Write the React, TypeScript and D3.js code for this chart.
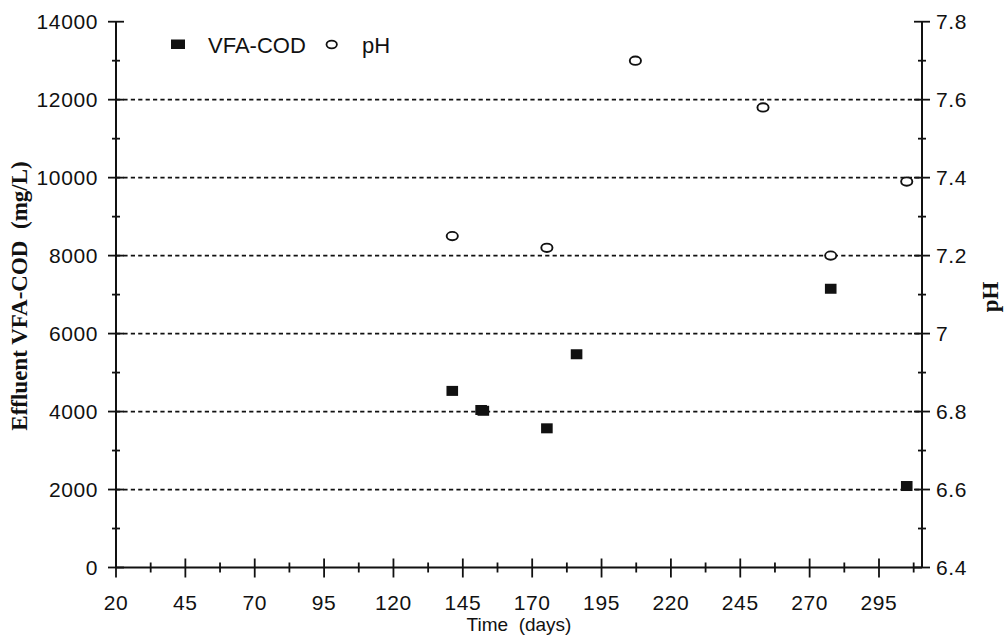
import React from "react";
import * as d3 from "d3";

// Sampling days and measurements
const vfaDays = [141.2, 151.6, 152.4, 175.3, 186, 277.6, 305];
const vfaCod = [4530, 4040, 4020, 3570, 5470, 7150, 2090];
const phDays = [141.2, 175.3, 207.2, 253.2, 277.6, 305];
const phValues = [7.25, 7.22, 7.7, 7.58, 7.2, 7.39];

const xMajorTicks = [20, 45, 70, 95, 120, 145, 170, 195, 220, 245, 270, 295];
const xMinorTicks = [32.5, 57.5, 82.5, 107.5, 132.5, 157.5, 182.5, 207.5, 232.5, 257.5, 282.5, 307.5];
const codTicks = [0, 2000, 4000, 6000, 8000, 10000, 12000, 14000];
const codMinorTicks = [1000, 3000, 5000, 7000, 9000, 11000, 13000];
const codGrid = [2000, 4000, 6000, 8000, 10000, 12000];
const phTicks = [6.4, 6.6, 6.8, 7.0, 7.2, 7.4, 7.6, 7.8];
const phTickLabels = ["6.4", "6.6", "6.8", "7", "7.2", "7.4", "7.6", "7.8"];
const phMinorTicks = [6.5, 6.7, 6.9, 7.1, 7.3, 7.5, 7.7];

const W = 1005;
const H = 638;
const left = 116;
const right = 922;
const top = 21.7;
const bottom = 567.5;

const sans = "'Liberation Sans', Arial, sans-serif";
const serif = "'Liberation Serif', 'Times New Roman', serif";
const ink = "#111";

export default function App() {
  const x = d3.scaleLinear().domain([20, 310.5]).range([left, right]);
  const yCod = d3.scaleLinear().domain([0, 14000]).range([bottom, top]);
  const yPh = d3.scaleLinear().domain([6.4, 7.8]).range([bottom, top]);

  return (
    <svg
      width={W}
      height={H}
      style={{ position: "absolute", left: 0, top: 0, background: "#fff" }}
    >
      <rect width={W} height={H} fill="#fff" />

      {/* dashed reference lines */}
      {codGrid.map((v) => (
        <line
          key={"g" + v}
          x1={left}
          x2={right}
          y1={yCod(v)}
          y2={yCod(v)}
          stroke={ink}
          strokeWidth={1.8}
          strokeDasharray="4.2,3.2"
        />
      ))}

      {/* axes */}
      <line x1={left} x2={left} y1={top} y2={bottom} stroke={ink} strokeWidth={2} />
      <line x1={right} x2={right} y1={top} y2={bottom} stroke={ink} strokeWidth={2} />
      <line x1={left} x2={right} y1={bottom} y2={bottom} stroke={ink} strokeWidth={2} />

      {/* left axis ticks and labels */}
      {codTicks.map((v) => (
        <g key={"cl" + v}>
          <line x1={left - 8} x2={left + 8} y1={yCod(v)} y2={yCod(v)} stroke={ink} strokeWidth={1.8} />
          <text
            x={98}
            y={yCod(v)}
            dy="0.36em"
            textAnchor="end"
            fontFamily={sans}
            fontSize={21}
            letterSpacing={0.6}
            fill={ink}
          >
            {v}
          </text>
        </g>
      ))}
      {codMinorTicks.map((v) => (
        <line key={"cm" + v} x1={left - 4} x2={left + 4} y1={yCod(v)} y2={yCod(v)} stroke={ink} strokeWidth={1.8} />
      ))}

      {/* right axis ticks and labels */}
      {phTicks.map((v, i) => (
        <g key={"pl" + v}>
          <line x1={right - 8} x2={right + 8} y1={yPh(v)} y2={yPh(v)} stroke={ink} strokeWidth={1.8} />
          <text
            x={936}
            y={yPh(v)}
            dy="0.36em"
            textAnchor="start"
            fontFamily={sans}
            fontSize={21}
            letterSpacing={0.6}
            fill={ink}
          >
            {phTickLabels[i]}
          </text>
        </g>
      ))}
      {phMinorTicks.map((v) => (
        <line key={"pm" + v} x1={right - 4} x2={right + 4} y1={yPh(v)} y2={yPh(v)} stroke={ink} strokeWidth={1.8} />
      ))}

      {/* bottom axis ticks and labels */}
      {xMajorTicks.map((v) => (
        <g key={"xl" + v}>
          <line x1={x(v)} x2={x(v)} y1={bottom - 9} y2={bottom + 10} stroke={ink} strokeWidth={1.8} />
          <text
            x={x(v)}
            y={610}
            textAnchor="middle"
            fontFamily={sans}
            fontSize={21}
            letterSpacing={0.6}
            fill={ink}
          >
            {v}
          </text>
        </g>
      ))}
      {xMinorTicks.map((v) => (
        <line key={"xm" + v} x1={x(v)} x2={x(v)} y1={bottom - 5} y2={bottom + 5} stroke={ink} strokeWidth={1.8} />
      ))}

      {/* axis titles */}
      <text
        x={519}
        y={631}
        textAnchor="middle"
        fontFamily={sans}
        fontSize={19}
        fill={ink}
        style={{ whiteSpace: "pre" }}
      >
        {"Time  (days)"}
      </text>
      <text
        transform="translate(27,296) rotate(-90)"
        textAnchor="middle"
        fontFamily={serif}
        fontWeight="bold"
        fontSize={23}
        fill={ink}
        style={{ whiteSpace: "pre" }}
      >
        {"Effluent VFA-COD  (mg/L)"}
      </text>
      <text
        transform="translate(998,297) rotate(-90)"
        textAnchor="middle"
        fontFamily={serif}
        fontWeight="bold"
        fontSize={23}
        fill={ink}
      >
        pH
      </text>

      {/* VFA-COD markers */}
      {vfaDays.map((d, i) => (
        <rect
          key={"v" + i}
          x={x(d) - 5.8}
          y={yCod(vfaCod[i]) - 5}
          width={11.6}
          height={10}
          fill={ink}
        />
      ))}

      {/* pH markers */}
      {phDays.map((d, i) => (
        <ellipse
          key={"p" + i}
          cx={x(d)}
          cy={yPh(phValues[i])}
          rx={5.6}
          ry={4.2}
          fill="#fff"
          stroke={ink}
          strokeWidth={1.9}
        />
      ))}

      {/* legend */}
      <rect x={171} y={39.5} width={14} height={9.5} fill={ink} />
      <text x={208} y={53} fontFamily={sans} fontSize={22} fill={ink}>
        VFA-COD
      </text>
      <ellipse cx={331.7} cy={44.5} rx={5.2} ry={3.8} fill="#fff" stroke={ink} strokeWidth={1.8} />
      <text x={362} y={53} fontFamily={sans} fontSize={22} fill={ink}>
        pH
      </text>
    </svg>
  );
}
